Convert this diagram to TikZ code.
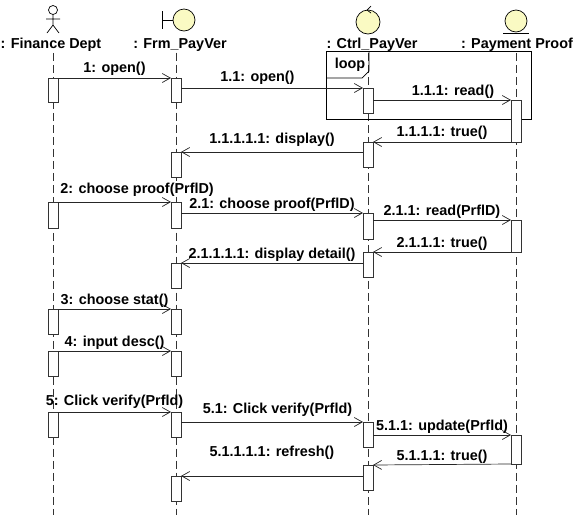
\documentclass[tikz,border=0pt]{standalone}
\usepackage{fontspec}
\setmainfont{Liberation Sans}
\usetikzlibrary{arrows.meta}
\definecolor{iconfill}{RGB}{250,250,195}
\tikzset{
    life/.style={draw=black!80, line width=0.7pt, dash pattern=on 8pt off 4pt},
    actbar/.style={draw=black!80, fill=white, line width=0.7pt, minimum width=10pt, inner sep=0pt, outer sep=0pt, anchor=north},
    msg/.style={draw=black!85, line width=0.7pt},
    lbl/.style={font=\bfseries\fontsize{14.4}{16}\selectfont, inner sep=1pt, above},
    head/.style={font=\bfseries\fontsize{14.4}{16}\selectfont, inner sep=1pt},
    icon/.style={draw=black, fill=iconfill, line width=0.7pt}
}
\begin{document}
\begin{tikzpicture}[x=1pt, y=-1pt, >={Straight Barb[length=8pt,width=9pt]}]
    \useasboundingbox (0,0) rectangle (574,515);
    % icons
    \draw[line width=0.7pt] (53,10) circle (4.5);
    \draw[line width=0.7pt] (53,14.5) -- (53,25) (46,19) -- (60,19) (47,33) -- (53,25) -- (59,33);
    \draw[line width=0.7pt] (162,11) -- (162,29) (162,20) -- (173,20);
    \draw[icon] (184,20) circle (11);
    \draw[icon] (368,22) circle (12);
    \draw[line width=0.7pt] (371,6) -- (367,10) -- (371,13);
    \draw[icon] (516,21) circle (11);
    \draw[line width=0.7pt] (503,33) -- (529,33);
    % heads
    \node[head] (fin) at (51,45) {: Finance Dept};
    \node[head] (frm) at (180,45) {: Frm\_PayVer};
    \node[head] (ctrl) at (372,45) {: Ctrl\_PayVer};
    \node[head] (pay) at (517,45) {: Payment Proof};
    \coordinate (finend) at (53,515);
    \coordinate (frmend) at (176,515);
    \coordinate (ctrlend) at (368,515);
    \coordinate (payend) at (516,515);
    % lifelines
    \draw[life] (fin.south -| finend) -- (finend);
    \draw[life] (frm.south -| frmend) -- (frmend);
    \draw[life] (ctrl.south -| ctrlend) -- (ctrlend);
    \draw[life] (pay.south -| payend) -- (payend);
    % loop frame
    \draw[line width=0.7pt] (326,51) rectangle (531,119);
    \draw[line width=0.7pt] (326,78) -- (362,78) -- (369,71) -- (369,51);
    \node[head] (looptag) at (350,65) {loop};
    % activations
    \node[actbar, minimum height=24] (f1) at (53,78) {};
    \node[actbar, minimum height=26] (f2) at (53,202) {};
    \node[actbar, minimum height=25] (f3) at (53,309) {};
    \node[actbar, minimum height=25] (f4) at (53,351) {};
    \node[actbar, minimum height=25] (f5) at (53,412) {};
    \node[actbar, minimum height=24] (b1) at (176,78) {};
    \node[actbar, minimum height=25] (b2) at (176,152) {};
    \node[actbar, minimum height=26] (b3) at (176,202) {};
    \node[actbar, minimum height=25] (b4) at (176,263) {};
    \node[actbar, minimum height=25] (b5) at (176,309) {};
    \node[actbar, minimum height=25] (b6) at (176,351) {};
    \node[actbar, minimum height=25] (b7) at (176,412) {};
    \node[actbar, minimum height=25] (b8) at (176,476) {};
    \node[actbar, minimum height=25] (c1) at (368,88) {};
    \node[actbar, minimum height=25] (c2) at (368,142) {};
    \node[actbar, minimum height=26] (c3) at (368,213) {};
    \node[actbar, minimum height=25] (c4) at (368,252) {};
    \node[actbar, minimum height=25] (c5) at (368,422) {};
    \node[actbar, minimum height=25] (c6) at (368,465) {};
    \node[actbar, minimum height=42] (p1) at (516,100) {};
    \node[actbar, minimum height=32] (p2) at (516,220) {};
    \node[actbar, minimum height=29] (p3) at (516,435) {};
    % messages
    \draw[msg, ->] (f1.north east) -- (b1.north west) node[lbl, midway, yshift=1pt] {1: open()};
    \draw[msg, ->] (b1.east |- c1.north) -- (c1.north west) node[lbl, pos=.42, yshift=2pt] {1.1: open()};
    \draw[msg, ->] (c1.east |- p1.north) -- (p1.north west) node[lbl, pos=.58] {1.1.1: read()};
    \draw[msg, ->] (p1.south west) -- (c2.north east) node[lbl, midway, yshift=1pt] {1.1.1.1: true()};
    \draw[msg, ->] (c2.west |- b2.north) -- (b2.north east) node[lbl, midway, yshift=4pt] {1.1.1.1.1: display()};
    \draw[msg, ->] (f2.north east) -- (b3.north west) node[lbl, pos=.7, yshift=4pt] {2: choose proof(PrflD)};
    \draw[msg, ->] (b3.east |- c3.north) -- (c3.north west) node[lbl, midway] {2.1: choose proof(PrflD)};
    \draw[msg, ->] (c3.east |- p2.north) -- (p2.north west) node[lbl, midway] {2.1.1: read(PrflD)};
    \draw[msg, ->] (p2.south west) -- (c4.north east) node[lbl, midway] {2.1.1.1: true()};
    \draw[msg, ->] (c4.west |- b4.north) -- (b4.north east) node[lbl, midway] {2.1.1.1.1: display detail()};
    \draw[msg, ->] (f3.north east) -- (b5.north west) node[lbl, midway] {3: choose stat()};
    \draw[msg, ->] (f4.north east) -- (b6.north west) node[lbl, midway] {4: input desc()};
    \draw[msg, ->] (f5.north east) -- (b7.north west) node[lbl, midway, yshift=2pt] {5: Click verify(Prfld)};
    \draw[msg, ->] (b7.east |- c5.north) -- (c5.north west) node[lbl, pos=.53, yshift=4pt] {5.1: Click verify(Prfld)};
    \draw[msg, ->] (c5.east |- p3.north) -- (p3.north west) node[lbl, midway] {5.1.1: update(Prfld)};
    \draw[msg, ->] (p3.south west) -- (c6.north east) node[lbl, midway] {5.1.1.1: true()};
    \draw[msg, ->] (c6.west |- b8.north) -- (b8.north east) node[lbl, midway, yshift=15pt] {5.1.1.1.1: refresh()};
\end{tikzpicture}
\end{document}
